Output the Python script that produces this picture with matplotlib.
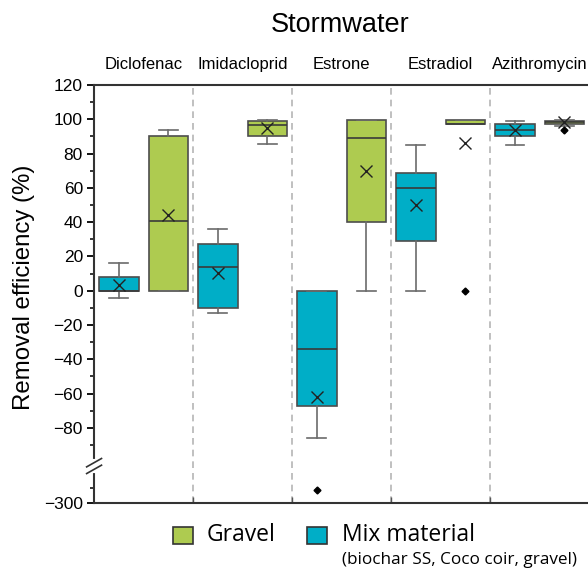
import numpy as np
import matplotlib
matplotlib.use("Agg")
import matplotlib.pyplot as plt
from matplotlib.patches import Rectangle
from matplotlib.lines import Line2D

plt.rcParams['font.family'] = ['Liberation Sans', 'DejaVu Sans']

compounds = ['Diclofenac', 'Imidacloprid', 'Estrone', 'Estradiol', 'Azithromycin']

# Mix material (biochar SS, coco coir, gravel)
mix_q1 = [0, -10, -67, 29, 90.3]
mix_med = [0, 14, -34, 60, 94]
mix_q3 = [7.7, 27.5, 0, 68.4, 97.5]
mix_lo = [-4.3, -12.8, -86, 0, 84.7]
mix_hi = [16, 36, 0, 85, 98.8]
mix_mean = [3.3, 10.6, -62, 49.8, 93.6]
mix_fliers = [[], [], [-291], [], []]

# Gravel
gravel_q1 = [0, 90, 40.3, 97.3, 97.3]
gravel_med = [40.7, 96.7, 89.1, 97.5, 98.5]
gravel_q3 = [90.5, 99.2, 99.6, 99.4, 99.2]
gravel_lo = [0, 85.7, 0, 97, 96.3]
gravel_hi = [94, 99.6, 99.6, 99.5, 99.8]
gravel_mean = [44.4, 94.6, 69.6, 86.4, 98.3]
gravel_fliers = [[], [], [], [0], [93.6]]

c_mix = '#00aec7'
c_gravel = '#aecb50'
c_edge = '#4d4d4d'


def stats(q1, med, q3, lo, hi, mean, fl):
    return [dict(q1=a, med=b, q3=c, whislo=d, whishi=e, mean=f, fliers=g)
            for a, b, c, d, e, f, g in zip(q1, med, q3, lo, hi, mean, fl)]


# broken y axis: squeeze -280..-100
c1 = 6.4 / 180.0
k2 = 0.872


def fwd(y):
    y = np.asarray(y, float)
    return np.where(y >= -100, y,
                    np.where(y >= -280, -100 + (y + 100) * c1,
                             -106.4 + (y + 280) * k2))


def inv(t):
    t = np.asarray(t, float)
    return np.where(t >= -100, t,
                    np.where(t >= -106.4, -100 + (t + 100) / c1,
                             -280 + (t + 106.4) / k2))


fig = plt.figure(figsize=(5.88, 5.70), dpi=100)
ax = fig.add_axes([0.160, 0.1175, 0.842, 0.7335])
ax.set_yscale('function', functions=(fwd, inv))

n = len(compounds)
x = np.arange(n)

for b in range(1, n):
    ax.axvline(b, color='#b5b5b5', ls=(0, (4, 3)), lw=1.2, zorder=0)

common = dict(widths=0.4, showmeans=True, patch_artist=True, manage_ticks=False,
              boxprops=dict(edgecolor=c_edge, linewidth=1.2),
              medianprops=dict(color='#3a3a3a', linewidth=1.2),
              whiskerprops=dict(color='#6b6b6b', linewidth=1.2),
              capprops=dict(color='#6b6b6b', linewidth=1.2),
              meanprops=dict(marker='x', markeredgecolor='#222222', markersize=8,
                             markeredgewidth=1.0),
              flierprops=dict(marker='D', markerfacecolor='black', markeredgecolor='black',
                              markersize=3.5))

bm = ax.bxp(stats(mix_q1, mix_med, mix_q3, mix_lo, mix_hi, mix_mean, mix_fliers),
            positions=x + 0.25, capwidths=0.19, **common)
bg = ax.bxp(stats(gravel_q1, gravel_med, gravel_q3, gravel_lo, gravel_hi, gravel_mean,
                  gravel_fliers),
            positions=x + 0.75, capwidths=0.19, **common)
for p in bm['boxes']:
    p.set_facecolor(c_mix)
for p in bg['boxes']:
    p.set_facecolor(c_gravel)

ax.set_xlim(0, n)
ax.set_ylim(-300, 120)
ax.set_yticks([-300] + list(range(-80, 121, 20)))
ax.set_yticklabels(['\u2212300'] + [str(v).replace('-', '\u2212') for v in range(-80, 121, 20)])
ax.set_yticks([-290] + list(range(-90, 111, 20)), minor=True)
ax.set_xticks(range(1, n))
ax.set_xticklabels([])
ax.tick_params(axis='x', direction='in', length=4, width=1, color='#555555')
ax.tick_params(axis='y', which='major', direction='out', length=5, width=1.3,
               labelsize=12.5, pad=3)
ax.tick_params(axis='y', which='minor', direction='out', length=3, width=1.1)

for s in ['left', 'bottom', 'top']:
    ax.spines[s].set_linewidth(1.5)
    ax.spines[s].set_color('#333333')
ax.spines['right'].set_visible(False)

ax.set_ylabel('Removal efficiency (%)', fontsize=17.3)
ax.yaxis.set_label_coords(-0.12, 0.515)

# break marks on the y spine
yb = 0.0885
ax.add_line(Line2D([0, 0], [yb - 0.012, yb + 0.012], transform=ax.transAxes,
                   color='white', lw=3, clip_on=False, zorder=5))
for dy in (-0.008, 0.008):
    ax.add_line(Line2D([-0.015, 0.015], [yb + dy - 0.01, yb + dy + 0.01],
                       transform=ax.transAxes, color='#333333', lw=1.2,
                       clip_on=False, zorder=6))

for i, name in enumerate(compounds):
    ax.text(i + 0.5, 1.03, name, transform=ax.get_xaxis_transform(),
            ha='center', va='bottom', fontsize=12, clip_on=False)

fig.text(340 / 588, 0.957, 'Stormwater', ha='center', va='center', fontsize=19.5)

# legend
lf = ['Open Sans', 'DejaVu Sans']
fig.add_artist(Rectangle((173 / 588, 1 - 544 / 570), 20 / 588, 17 / 570,
                         transform=fig.transFigure, facecolor=c_gravel,
                         edgecolor='#333333', lw=1.2))
fig.text(207 / 588, 1 - 535 / 570, 'Gravel', ha='left', va='center', fontsize=16.5,
         family=lf)
fig.add_artist(Rectangle((307 / 588, 1 - 544 / 570), 20 / 588, 17 / 570,
                         transform=fig.transFigure, facecolor=c_mix,
                         edgecolor='#333333', lw=1.2))
fig.text(342 / 588, 1 - 535 / 570, 'Mix material', ha='left', va='center', fontsize=16.5,
         family=lf)
fig.text(342 / 588, 1 - 560 / 570, '(biochar SS, Coco coir, gravel)', ha='left',
         va='center', fontsize=12.3, family=lf)

fig.savefig('out.png', dpi=100)
